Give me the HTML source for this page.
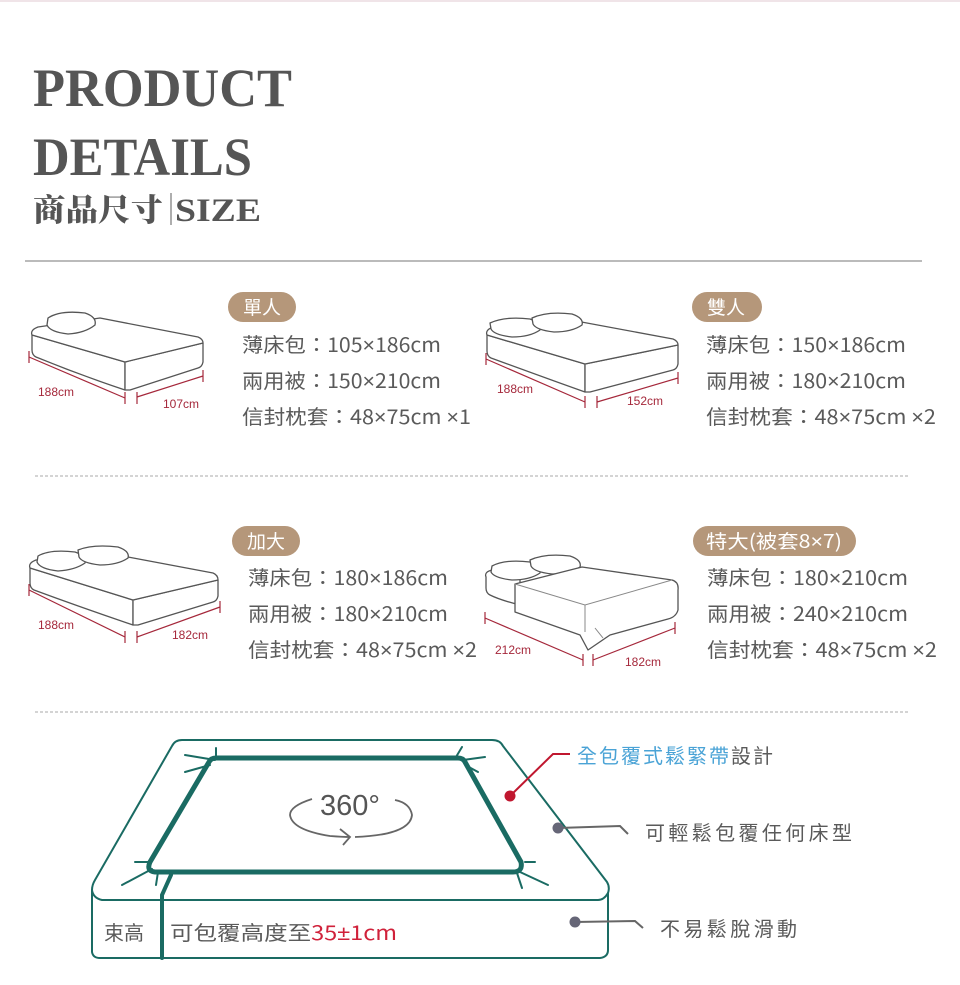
<!DOCTYPE html>
<html><head><meta charset="utf-8"><style>
html,body{margin:0;padding:0;background:#fff;}
svg{display:block;}
.t{font-family:"Noto Sans CJK TC","Liberation Sans",sans-serif;fill:#5a5a5a;font-size:20px;}
.x{font-family:"Liberation Sans",sans-serif;}
.d{font-family:"Liberation Sans",sans-serif;fill:#a5283b;font-size:12px;}
.p{font-family:"Noto Sans CJK TC","Liberation Sans",sans-serif;fill:#fff;font-size:19px;}
.bed{fill:#fff;stroke:#555;stroke-width:1.3;stroke-linejoin:round;}
.dim{stroke:#a5283b;stroke-width:1.2;fill:none;}
.g{stroke:#1a6b63;fill:none;stroke-linejoin:round;stroke-linecap:round;}
</style></head><body>
<svg width="960" height="985" viewBox="0 0 960 985" xmlns="http://www.w3.org/2000/svg">
<line x1="0" y1="1" x2="960" y2="1" stroke="#f0e4e8" stroke-width="2"/>
<text x="33" y="106" font-family="Liberation Serif,serif" font-weight="bold" font-size="54" fill="#555" textLength="259" lengthAdjust="spacingAndGlyphs">PRODUCT</text>
<text x="33" y="175" font-family="Liberation Serif,serif" font-weight="bold" font-size="54" fill="#555" textLength="219" lengthAdjust="spacingAndGlyphs">DETAILS</text>
<text x="33" y="221" font-family="'Noto Serif CJK SC','Noto Serif CJK TC',serif" font-weight="900" font-size="31" fill="#555" textLength="130" lengthAdjust="spacingAndGlyphs">商品尺寸</text>
<line x1="171" y1="193" x2="171" y2="225" stroke="#777" stroke-width="1.2"/>
<text x="175" y="221" font-family="Liberation Serif,serif" font-weight="bold" font-size="33" fill="#555" textLength="86" lengthAdjust="spacingAndGlyphs">SIZE</text>
<line x1="25" y1="261" x2="922" y2="261" stroke="#777" stroke-width="1"/>
<line x1="35" y1="476" x2="910" y2="476" stroke="#aaa" stroke-width="1" stroke-dasharray="3,2"/>
<line x1="35" y1="712" x2="910" y2="712" stroke="#aaa" stroke-width="1" stroke-dasharray="3,2"/>

<path class="bed" d="M32,335 L125,362 L125,390 Q80,375 36,357 Q32,355 32,350 Z"/>
<path class="bed" d="M125,362 L203,343 L203,362 Q202,367 198,368 L130,390 L125,390 Z"/>
<path class="bed" d="M32,335 Q30,330 38,327 L100,318 L198,337 Q203,339 203,343 L125,362 Z"/>
<path class="bed" d="M48,318 Q60,310 85,313 Q97,317 95,325 Q85,333 68,334 Q50,332 47,325 Z"/>
<path class="dim" d="M29,351 V363 M29,357 L125,398 M125,392 V404 M137,392 V404 M137,397 L203,376 M203,370 V382"/>
<text class="d" x="38" y="396">188cm</text><text class="d" x="163" y="408">107cm</text>

<path class="bed" d="M487,335 L585,364 L585,392 Q540,376 491,358 Q487,356 487,351 Z"/>
<path class="bed" d="M585,364 L678,345 L678,364 Q677,369 673,370 L590,392 L585,392 Z"/>
<path class="bed" d="M487,335 Q485,330 493,327 L560,318 L673,339 Q678,341 678,345 L585,364 Z"/>
<path class="bed" d="M490,323 Q505,316 530,319 Q542,323 540,330 Q530,337 512,337 Q494,335 491,329 Z"/>
<path class="bed" d="M532,318 Q547,311 572,314 Q584,318 582,325 Q572,332 554,332 Q536,330 533,324 Z"/>
<path class="dim" d="M486,353 V365 M486,359 L585,402 M585,396 V408 M597,396 V408 M597,402 L678,378 M678,372 V384"/>
<text class="d" x="497" y="393">188cm</text><text class="d" x="627" y="405">152cm</text>

<path class="bed" d="M30,568 L133,600 L133,625 Q80,607 34,590 Q30,588 30,583 Z"/>
<path class="bed" d="M133,600 L218,580 L218,596 Q217,601 213,602 L138,625 L133,625 Z"/>
<path class="bed" d="M30,568 Q28,563 36,560 L128,557 L213,573 Q218,575 218,580 L133,600 Z"/>
<path class="bed" d="M38,556 Q50,549 75,552 Q87,556 85,563 Q75,570 58,571 Q40,569 37,562 Z"/>
<path class="bed" d="M78,550 Q93,544 118,547 Q130,551 128,558 Q118,565 100,565 Q82,563 79,557 Z"/>
<path class="dim" d="M29,584 V596 M29,590 L125,637 M125,631 V643 M137,631 V643 M137,637 L220,607 M220,601 V613"/>
<text class="d" x="38" y="629">188cm</text><text class="d" x="172" y="639">182cm</text>

<path class="bed" d="M486,577 Q484,572 492,570 L520,572 L520,605 Q500,600 490,595 Q486,593 486,588 Z"/>
<path class="bed" d="M492,566 Q505,559 530,562 Q542,566 540,573 Q530,580 512,580 Q494,578 491,572 Z"/>
<path class="bed" d="M530,560 Q545,553 570,556 Q582,560 580,567 Q570,574 552,574 Q534,572 531,566 Z"/>
<path class="bed" stroke="#888" d="M515,584 L582,567 L672,580 Q679,582 678,590 L678,610 Q676,617 668,619 L610,635 L588,650 L580,635 L515,612 Z"/>
<path fill="none" stroke="#888" stroke-width="1" d="M515,584 L585,605 L672,580 M585,605 L585,632 M595,628 L603,638"/>
<path class="dim" d="M485,612 V624 M485,618 L583,660 M583,654 V666 M593,654 V666 M593,660 L675,628 M675,622 V634"/>
<text class="d" x="495" y="654">212cm</text><text class="d" x="625" y="666">182cm</text>

<rect x="228" y="292" width="68" height="30" rx="15" fill="#b5977a"/><text class="p" x="243" y="314">單人</text>
<rect x="692" y="292" width="70" height="30" rx="15" fill="#b5977a"/><text class="p" x="707" y="314">雙人</text>
<rect x="232" y="526" width="68" height="30" rx="15" fill="#b5977a"/><text class="p" x="247" y="548">加大</text>
<rect x="693" y="526" width="163" height="30" rx="15" fill="#b5977a"/><text class="p" x="706" y="548" textLength="136" lengthAdjust="spacingAndGlyphs">特大(被套8<tspan class="x">×</tspan>7)</text>

<text class="t" x="242" y="352" textLength="199" lengthAdjust="spacingAndGlyphs">薄床包：105<tspan class="x">×</tspan>186cm</text>
<text class="t" x="242" y="388" textLength="199" lengthAdjust="spacingAndGlyphs">兩用被：150<tspan class="x">×</tspan>210cm</text>
<text class="t" x="242" y="424" textLength="229" lengthAdjust="spacingAndGlyphs">信封枕套：48<tspan class="x">×</tspan>75cm <tspan class="x">×</tspan>1</text>
<text class="t" x="706" y="352" textLength="200" lengthAdjust="spacingAndGlyphs">薄床包：150<tspan class="x">×</tspan>186cm</text>
<text class="t" x="706" y="388" textLength="200" lengthAdjust="spacingAndGlyphs">兩用被：180<tspan class="x">×</tspan>210cm</text>
<text class="t" x="706" y="424" textLength="230" lengthAdjust="spacingAndGlyphs">信封枕套：48<tspan class="x">×</tspan>75cm <tspan class="x">×</tspan>2</text>
<text class="t" x="248" y="585" textLength="200" lengthAdjust="spacingAndGlyphs">薄床包：180<tspan class="x">×</tspan>186cm</text>
<text class="t" x="248" y="621" textLength="200" lengthAdjust="spacingAndGlyphs">兩用被：180<tspan class="x">×</tspan>210cm</text>
<text class="t" x="248" y="657" textLength="229" lengthAdjust="spacingAndGlyphs">信封枕套：48<tspan class="x">×</tspan>75cm <tspan class="x">×</tspan>2</text>
<text class="t" x="707" y="585" textLength="201" lengthAdjust="spacingAndGlyphs">薄床包：180<tspan class="x">×</tspan>210cm</text>
<text class="t" x="707" y="621" textLength="201" lengthAdjust="spacingAndGlyphs">兩用被：240<tspan class="x">×</tspan>210cm</text>
<text class="t" x="707" y="657" textLength="230" lengthAdjust="spacingAndGlyphs">信封枕套：48<tspan class="x">×</tspan>75cm <tspan class="x">×</tspan>2</text>

<path class="g" stroke-width="2" d="M182,740 L492,740 Q500,740 503,746 L607,882 Q610,887 608,893 Q604,900 598,900 L102,900 Q93,898 92,890 Q92,885 95,880 L172,746 Q175,740 182,740 Z"/>
<path class="g" stroke-width="2" d="M92,890 L92,952 Q93,958 100,958 L600,958 Q608,957 608,950 L608,893"/>
<path class="g" stroke-width="5" d="M216,758 L458,758 Q463,758 465,762 L521,862 Q523,872 513,872 L155,872 Q146,871 150,862 L209,762 Q211,758 216,758 Z"/>
<path class="g" stroke-width="4" d="M171,875 L162,895 L162,958"/>
<path class="g" stroke-width="2" d="M185,755 L215,760 M185,772 L210,765 M216,757 L216,748 M456,757 L462,747 M463,760 L485,757 M467,766 L478,772 M150,862 L135,862 M152,869 L122,885 M158,872 L156,885 M525,862 L535,862 M520,872 L548,885 M517,873 L522,888"/>
<path fill="none" stroke="#666" stroke-width="1.8" d="M312,799 Q290,806 290,815 Q292,830 330,836 Q343,837 350,837 M355,837 Q410,835 412,815 Q410,803 395,800 M340,829 L350,837 L343,845"/>
<text x="320" y="815" font-family="Liberation Sans,sans-serif" font-size="29" fill="#555">360°</text>
<path d="M510,796 L553,754 L570,754" stroke="#c0172f" stroke-width="2" fill="none"/>
<circle cx="510" cy="796" r="5.5" fill="#c0172f"/>
<path d="M558,828 L620,826 L628,834" stroke="#666" stroke-width="2" fill="none"/>
<circle cx="558" cy="828" r="5.5" fill="#666677"/>
<path d="M575,922 L635,921 L643,928" stroke="#666" stroke-width="2" fill="none"/>
<circle cx="575" cy="922" r="5.5" fill="#666677"/>
<text class="t" x="577" y="763" font-size="19" textLength="196" lengthAdjust="spacing"><tspan fill="#4aa3d6">全包覆式鬆緊帶</tspan>設計</text>
<text class="t" x="645" y="840" textLength="207" lengthAdjust="spacing">可輕鬆包覆任何床型</text>
<text class="t" x="660" y="936" textLength="137" lengthAdjust="spacing">不易鬆脫滑動</text>
<text class="t" x="104" y="940">束高</text>
<text class="t" x="170" y="940" textLength="227" lengthAdjust="spacingAndGlyphs">可包覆高度至<tspan fill="#d0213a">35<tspan class="x">±</tspan>1cm</tspan></text>
</svg>
</body></html>
